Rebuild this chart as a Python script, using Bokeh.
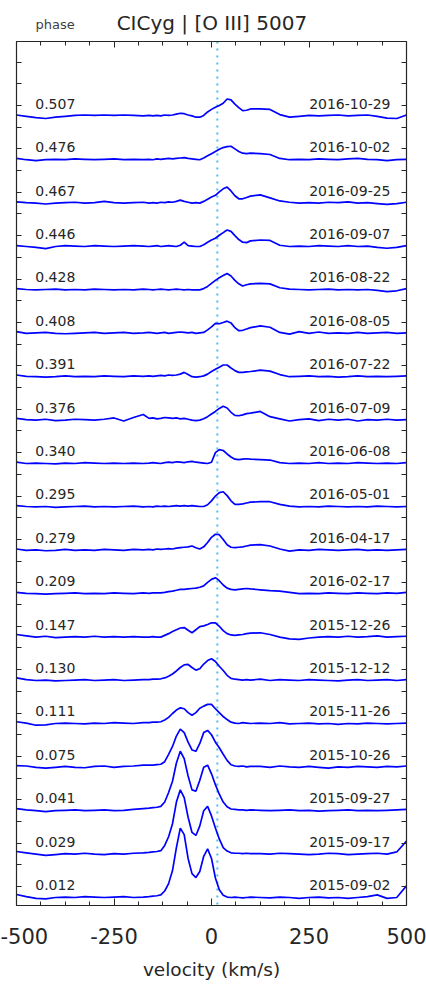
from bokeh.plotting import figure
from bokeh.models import (ColumnDataSource, Range1d, LinearAxis, FixedTicker, Span,
                          CustomJSTickFormatter)
from bokeh.layouts import column
from bokeh.core.properties import value
from bokeh.embed import file_html
from bokeh.resources import INLINE

# ---------------- data ----------------
velocity = [-500, -475, -450, -425, -400, -375, -350, -325, -300, -275, -250, -225, -200, -175,
            -160, -150, -140, -130, -120, -110, -100, -90, -80, -70, -60, -50, -40, -30, -20, -10,
            0, 10, 20, 30, 40, 50, 60, 70, 80, 90, 100,
            125, 150, 175, 200, 225, 250, 275, 300, 325, 350, 375, 400, 425, 450, 475, 500]

flux_0012 = [0.07, 0.02, -0.02, -0.03, 0.0, 0.01, 0.0, 0.02, 0.01, 0.0, 0.01, 0.02, 0.0, 0.01,
             0.02, 0.03, 0.04, 0.06, 0.15, 0.32, 0.62, 1.15, 1.6, 1.45, 0.9, 0.55, 0.46, 0.6, 0.95, 1.12,
             0.9, 0.45, 0.18, 0.05, 0.01, 0.0, 0.01, 0.0, -0.01, 0.0, 0.01,
             0.0, -0.01, 0.01, 0.0, -0.02, 0.0, 0.01, -0.01, 0.0, -0.02, 0.0, 0.02, 0.06, -0.02, 0.0, 0.27]
flux_0029 = [0.06, 0.03, 0.0, -0.03, -0.01, 0.01, 0.0, 0.02, 0.0, -0.01, 0.01, 0.0, 0.02, 0.03,
             0.04, 0.05, 0.06, 0.08, 0.2, 0.4, 0.7, 1.2, 1.48, 1.3, 0.85, 0.5, 0.43, 0.65, 1.0, 1.1,
             0.88, 0.6, 0.35, 0.15, 0.07, 0.03, 0.02, 0.02, 0.01, 0.02, 0.01,
             0.01, 0.0, 0.02, 0.01, 0.0, -0.01, 0.0, 0.02, 0.01, -0.01, 0.0, 0.01, 0.02, 0.0, 0.05, 0.3]
flux_0041 = [0.05, 0.02, 0.0, -0.02, 0.0, 0.01, 0.02, 0.0, 0.01, 0.02, 0.0, 0.01, 0.03, 0.05,
             0.06, 0.07, 0.08, 0.1, 0.2, 0.42, 0.68, 1.1, 1.37, 1.2, 0.8, 0.48, 0.45, 0.7, 1.0, 1.05,
             0.85, 0.6, 0.38, 0.2, 0.09, 0.04, 0.03, 0.02, 0.02, 0.01, 0.02,
             0.01, 0.0, 0.01, 0.02, 0.0, 0.01, -0.01, 0.0, 0.01, 0.02, 0.0, 0.01, 0.0, 0.01, 0.02, 0.03]
flux_0075 = [0.04, 0.03, 0.0, -0.02, 0.0, 0.02, 0.0, -0.01, 0.02, 0.03, 0.0, 0.02, 0.03, 0.05,
             0.05, 0.05, 0.06, 0.07, 0.13, 0.3, 0.48, 0.72, 0.88, 0.8, 0.58, 0.4, 0.37, 0.55, 0.8, 0.85,
             0.75, 0.58, 0.45, 0.3, 0.16, 0.06, 0.03, 0.02, 0.03, 0.01, 0.02,
             0.02, 0.0, 0.03, 0.01, 0.0, 0.02, 0.0, -0.02, 0.01, 0.0, 0.02, 0.01, 0.0, 0.02, 0.01, 0.03]
flux_0111 = [0.05, 0.02, -0.03, -0.02, 0.01, 0.02, 0.01, 0.0, 0.02, 0.01, 0.03, 0.02, 0.01, 0.03,
             0.03, 0.04, 0.04, 0.05, 0.09, 0.15, 0.24, 0.32, 0.37, 0.35, 0.26, 0.2, 0.26, 0.36, 0.41, 0.45,
             0.45, 0.35, 0.26, 0.17, 0.1, 0.04, 0.02, 0.01, 0.03, 0.02, 0.01,
             0.02, 0.01, 0.03, 0.0, 0.01, 0.02, 0.0, 0.01, -0.01, 0.01, 0.0, 0.02, 0.01, 0.0, 0.01, 0.02]
flux_0130 = [0.06, 0.02, 0.0, 0.01, -0.01, 0.0, 0.01, 0.02, 0.0, 0.01, 0.02, 0.0, 0.01, 0.02,
             0.02, 0.03, 0.03, 0.04, 0.06, 0.1, 0.15, 0.22, 0.3, 0.36, 0.37, 0.3, 0.24, 0.27, 0.38, 0.46,
             0.5, 0.44, 0.33, 0.23, 0.12, 0.05, 0.03, 0.02, 0.01, 0.02, 0.01,
             0.03, 0.0, 0.02, 0.01, 0.0, 0.02, 0.01, 0.0, -0.01, 0.01, 0.02, 0.0, 0.01, 0.02, 0.0, 0.02]
flux_0147 = [0.06, 0.03, 0.0, 0.02, -0.01, 0.0, 0.01, 0.0, 0.02, 0.0, 0.01, 0.0, 0.01, 0.0,
             0.0, 0.01, 0.0, 0.0, 0.04, 0.08, 0.13, 0.17, 0.21, 0.22, 0.16, 0.1, 0.17, 0.24, 0.26, 0.29,
             0.33, 0.33, 0.25, 0.15, 0.08, 0.05, 0.04, 0.05, 0.06, 0.08, 0.09,
             0.1, 0.06, 0.0, -0.04, -0.05, -0.02, 0.0, 0.01, 0.0, 0.02, 0.0, 0.01, 0.03, 0.0, 0.01, 0.02]
flux_0209 = [0.03, 0.01, 0.0, -0.01, 0.0, 0.01, 0.02, 0.0, 0.01, 0.0, 0.02, 0.01, 0.0, 0.02,
             0.01, 0.02, 0.02, 0.02, 0.03, 0.05, 0.06, 0.08, 0.1, 0.1, 0.11, 0.12, 0.13, 0.15, 0.18, 0.26,
             0.33, 0.37, 0.3, 0.2, 0.13, 0.1, 0.09, 0.1, 0.11, 0.12, 0.11,
             0.09, 0.07, 0.06, 0.03, 0.0, 0.01, 0.0, 0.02, 0.01, 0.0, 0.02, 0.01, 0.0, 0.02, 0.01, 0.03]
flux_0279 = [0.03, 0.0, 0.01, -0.01, 0.0, 0.02, 0.0, 0.01, 0.0, 0.02, 0.01, 0.0, 0.02, 0.01,
             0.02, 0.01, 0.03, 0.02, 0.03, 0.04, 0.03, 0.05, 0.06, 0.07, 0.08, 0.1, 0.06, 0.03, 0.08, 0.18,
             0.3, 0.37, 0.36, 0.25, 0.13, 0.07, 0.06, 0.07, 0.08, 0.1, 0.12,
             0.13, 0.1, 0.03, -0.02, 0.01, 0.0, 0.02, 0.01, 0.0, 0.01, 0.02, 0.0, 0.01, 0.0, 0.01, 0.02]
flux_0295 = [0.03, 0.01, 0.0, 0.01, -0.01, 0.0, 0.01, 0.02, 0.0, 0.01, 0.0, 0.01, 0.02, 0.0,
             0.01, 0.0, 0.02, 0.01, 0.02, 0.01, 0.02, 0.03, 0.02, 0.03, 0.02, 0.03, 0.02, 0.01, 0.01, 0.05,
             0.14, 0.25, 0.33, 0.35, 0.26, 0.14, 0.06, 0.06, 0.07, 0.09, 0.11,
             0.12, 0.12, 0.06, 0.02, 0.0, 0.01, 0.0, 0.02, 0.01, 0.0, 0.01, 0.0, 0.02, 0.01, 0.0, 0.01]
flux_0340 = [0.03, 0.0, 0.01, 0.0, -0.01, 0.01, 0.0, 0.02, 0.01, 0.0, 0.01, 0.0, 0.01, 0.0,
             0.01, 0.02, 0.01, 0.0, 0.02, 0.03, 0.02, 0.04, 0.03, 0.02, 0.04, 0.05, 0.03, 0.02, 0.01, 0.0,
             0.03, 0.25, 0.32, 0.3, 0.22, 0.15, 0.1, 0.09, 0.1, 0.11, 0.1,
             0.09, 0.08, 0.02, 0.0, 0.01, 0.0, 0.02, 0.0, 0.01, 0.0, 0.02, 0.01, 0.0, 0.01, 0.0, 0.02]
flux_0376 = [0.04, 0.01, 0.0, 0.02, -0.01, 0.0, 0.02, 0.01, 0.0, 0.02, 0.05, -0.02, 0.06, 0.13,
             0.04, 0.05, 0.03, 0.04, 0.06, 0.05, 0.04, 0.05, 0.03, 0.04, 0.02, 0.0, -0.01, 0.0, 0.03, 0.08,
             0.14, 0.2, 0.27, 0.32, 0.28, 0.18, 0.11, 0.1, 0.12, 0.15, 0.16,
             0.2, 0.08, 0.03, -0.02, 0.01, 0.03, -0.01, 0.02, 0.0, 0.02, -0.02, 0.01, 0.0, 0.02, 0.0, 0.01]
flux_0391 = [0.04, 0.01, 0.0, -0.01, 0.0, 0.02, 0.0, 0.01, 0.0, 0.02, 0.01, 0.0, 0.02, 0.01,
             0.02, 0.01, 0.02, 0.03, 0.02, 0.04, 0.03, 0.04, 0.06, 0.1, 0.05, 0.0, -0.01, 0.0, 0.02, 0.06,
             0.12, 0.17, 0.22, 0.27, 0.27, 0.2, 0.14, 0.1, 0.1, 0.11, 0.12,
             0.15, 0.13, 0.05, 0.0, 0.01, 0.02, 0.0, 0.01, -0.01, 0.0, 0.02, 0.0, 0.01, 0.0, 0.01, 0.02]
flux_0408 = [0.04, 0.0, 0.01, 0.02, 0.0, -0.01, 0.0, 0.01, 0.02, 0.0, 0.01, 0.02, 0.0, 0.01,
             0.02, 0.01, 0.0, 0.01, 0.02, 0.0, 0.01, 0.02, 0.03, 0.02, 0.01, 0.02, 0.0, 0.01, 0.02, 0.08,
             0.15, 0.23, 0.22, 0.25, 0.28, 0.24, 0.13, 0.06, 0.07, 0.1, 0.13,
             0.17, 0.14, 0.02, -0.02, 0.04, 0.0, 0.03, 0.0, 0.01, 0.0, 0.02, 0.0, 0.01, 0.02, 0.0, 0.01]
flux_0428 = [0.03, 0.01, 0.0, 0.01, 0.02, 0.0, 0.01, 0.0, 0.02, 0.01, 0.0, 0.01, 0.0, 0.02,
             0.01, 0.0, 0.01, 0.02, 0.01, 0.0, 0.01, 0.02, 0.01, 0.0, 0.01, 0.0, 0.0, 0.0, 0.03, 0.08,
             0.15, 0.22, 0.28, 0.33, 0.38, 0.32, 0.22, 0.14, 0.09, 0.12, 0.14,
             0.15, 0.14, 0.05, 0.02, 0.01, 0.0, 0.01, 0.02, 0.0, 0.01, 0.0, 0.01, -0.01, -0.04, -0.02, 0.03]
flux_0446 = [0.02, 0.0, -0.02, -0.05, 0.0, 0.02, 0.01, 0.0, 0.02, 0.01, 0.0, 0.01, 0.02, 0.01,
             0.0, 0.01, 0.02, 0.0, 0.01, 0.02, 0.01, 0.0, 0.03, 0.1, 0.02, 0.01, 0.0, 0.0, 0.04, 0.1,
             0.15, 0.19, 0.26, 0.32, 0.38, 0.35, 0.25, 0.16, 0.1, 0.09, 0.13,
             0.15, 0.14, 0.03, 0.0, 0.01, 0.0, 0.02, 0.01, 0.0, 0.02, 0.0, 0.01, -0.02, -0.04, -0.02, 0.02]
flux_0467 = [0.03, 0.01, 0.0, -0.02, 0.0, 0.01, 0.02, 0.0, 0.01, 0.04, 0.01, 0.0, 0.01, 0.02,
             0.0, 0.01, 0.0, 0.02, 0.01, 0.03, 0.02, 0.04, 0.07, 0.04, 0.02, 0.0, 0.01, 0.0, 0.04, 0.09,
             0.14, 0.18, 0.26, 0.33, 0.37, 0.28, 0.17, 0.1, 0.1, 0.13, 0.16,
             0.19, 0.12, 0.05, 0.02, 0.0, 0.01, 0.0, 0.02, 0.01, 0.03, 0.0, 0.01, -0.01, -0.03, -0.01, 0.02]
flux_0476 = [0.03, 0.0, -0.02, 0.0, 0.01, 0.0, 0.02, 0.01, 0.0, 0.01, 0.02, 0.0, 0.01, 0.0,
             0.01, 0.0, 0.02, 0.01, 0.02, 0.03, 0.02, 0.03, 0.04, 0.05, 0.03, 0.02, 0.01, 0.0, 0.04, 0.09,
             0.14, 0.19, 0.24, 0.28, 0.3, 0.31, 0.25, 0.19, 0.15, 0.14, 0.15,
             0.14, 0.12, 0.03, 0.0, 0.01, 0.0, 0.02, 0.01, 0.0, 0.02, 0.03, 0.01, 0.0, -0.02, 0.0, 0.01]
flux_0507 = [0.03, 0.0, -0.03, -0.05, -0.02, 0.0, 0.02, 0.03, 0.02, 0.03, 0.02, 0.03, 0.02, 0.01,
             0.02, 0.01, 0.02, 0.01, 0.03, 0.02, 0.03, 0.05, 0.07, 0.06, 0.03, 0.01, -0.02, -0.02, 0.02, 0.1,
             0.16, 0.21, 0.25, 0.3, 0.4, 0.38, 0.28, 0.2, 0.13, 0.14, 0.17,
             0.17, 0.16, 0.04, -0.02, 0.0, 0.02, 0.01, 0.02, 0.03, 0.01, 0.02, 0.03, 0.0, -0.04, -0.05, 0.03]

# bottom to top
spectra = [flux_0012, flux_0029, flux_0041, flux_0075, flux_0111, flux_0130, flux_0147,
           flux_0209, flux_0279, flux_0295, flux_0340, flux_0376, flux_0391, flux_0408,
           flux_0428, flux_0446, flux_0467, flux_0476, flux_0507]
phases = ["0.012", "0.029", "0.041", "0.075", "0.111", "0.130", "0.147", "0.209", "0.279",
          "0.295", "0.340", "0.376", "0.391", "0.408", "0.428", "0.446", "0.467", "0.476", "0.507"]
dates = ["2015-09-02", "2015-09-17", "2015-09-27", "2015-10-26", "2015-11-26", "2015-12-12",
         "2015-12-26", "2016-02-17", "2016-04-17", "2016-05-01", "2016-06-08", "2016-07-09",
         "2016-07-22", "2016-08-05", "2016-08-22", "2016-09-07", "2016-09-25", "2016-10-02",
         "2016-10-29"]
x_tick_labels = [-500, -250, 0, 250, 500]
rest_velocity = 15
title_text = "CICyg | [O III] 5007"
header_word = "phase"

# ---------------- styling ----------------
FONT = "DejaVu Sans"
TXT = "#262626"
AX = "#262626"
W = 426
HEAD_H = 41          # header strip (title row) above the plot box
H = 985 - HEAD_H
BORDER_L, BORDER_R = 16, 20

# ---- header strip: same horizontal mapping as the plot, y in pixels (downward) ----
head = figure(width=W, height=HEAD_H, x_range=Range1d(-500, 500), y_range=Range1d(HEAD_H, 0),
              output_backend="svg", toolbar_location=None, x_axis_type=None, y_axis_type=None,
              min_border_left=BORDER_L, min_border_right=BORDER_R, min_border_top=0,
              min_border_bottom=0)
head.grid.visible = False
head.outline_line_color = None
head.background_fill_color = "white"
head.border_fill_color = "white"
head.text(x=[-451], y=[23.5], text=[header_word], text_font=value(FONT), text_font_size="13px",
          text_color="#404040", text_align="left", text_baseline="middle")
head.text(x=[1], y=[22.5], text=[title_text], text_font=value(FONT), text_font_size="20px",
          text_color=TXT, text_align="center", text_baseline="middle")

# ---- main plot ----
n = len(spectra)
xs = [velocity for _ in range(n)]
ys = [[k + f for f in s] for k, s in enumerate(spectra)]

p = figure(width=W, height=H, x_range=Range1d(-500, 500), y_range=Range1d(-0.184, 19.724),
           output_backend="svg", toolbar_location=None,
           min_border_left=BORDER_L, min_border_right=BORDER_R, min_border_top=0,
           min_border_bottom=80)
p.grid.visible = False
p.outline_line_color = AX
p.outline_line_width = 1
p.background_fill_color = "white"
p.border_fill_color = "white"

minor_x = [-500 + 62.5 * i for i in range(17)]
y_ticks = [k + f for k in range(20) for f in (0.25, 0.75)]
blank = CustomJSTickFormatter(code="return ''")

def style_axis(ax, ticker, labels):
    ax.ticker = ticker
    ax.axis_line_color = AX
    ax.axis_line_width = 1.2
    ax.major_tick_line_color = AX
    ax.minor_tick_line_color = AX
    ax.major_tick_out = 0
    ax.minor_tick_out = 0
    if not labels:
        ax.formatter = blank
        ax.major_label_standoff = 0
        ax.major_label_text_font_size = "0px"

xt = FixedTicker(ticks=x_tick_labels, minor_ticks=minor_x)
yt = FixedTicker(ticks=y_ticks)

xb = p.xaxis[0]
style_axis(xb, xt, True)
xb.major_tick_in = 7
xb.minor_tick_in = 4
xb.major_label_text_font = FONT
xb.major_label_text_font_size = "21px"
xb.major_label_text_color = TXT
xb.major_label_standoff = 22
xb.major_label_overrides = {t: str(t) for t in x_tick_labels}
xb.axis_label = "velocity (km/s)"
xb.axis_label_text_font = FONT
xb.axis_label_text_font_size = "18.5px"
xb.axis_label_text_font_style = "normal"
xb.axis_label_text_color = TXT
xb.axis_label_standoff = 12

xa = LinearAxis()
style_axis(xa, FixedTicker(ticks=x_tick_labels, minor_ticks=minor_x), False)
xa.major_tick_in = 6
xa.minor_tick_in = 4
p.add_layout(xa, "above")

yl = p.yaxis[0]
style_axis(yl, yt, False)
yl.major_tick_in = 5
yr = LinearAxis()
style_axis(yr, FixedTicker(ticks=y_ticks), False)
yr.major_tick_in = 5
p.add_layout(yr, "right")

p.add_layout(Span(location=rest_velocity, dimension="height", line_color="#4dbeee",
                  line_width=2, line_dash="2 5", level="underlay"))

p.multi_line(xs=xs, ys=ys, line_color="#0000ff", line_width=1.7)

src = ColumnDataSource(dict(y=[k + 0.29 for k in range(n)], phase=phases, date=dates))
p.text(x=-452, y="y", text="phase", source=src, text_font=value(FONT),
       text_font_size="14px", text_color=TXT, text_align="left", text_baseline="middle")
p.text(x=459, y="y", text="date", source=src, text_font=value(FONT),
       text_font_size="14px", text_color=TXT, text_align="right", text_baseline="middle")

layout = column(head, p, spacing=0)
open("out.html", "w").write(file_html(layout, INLINE))
